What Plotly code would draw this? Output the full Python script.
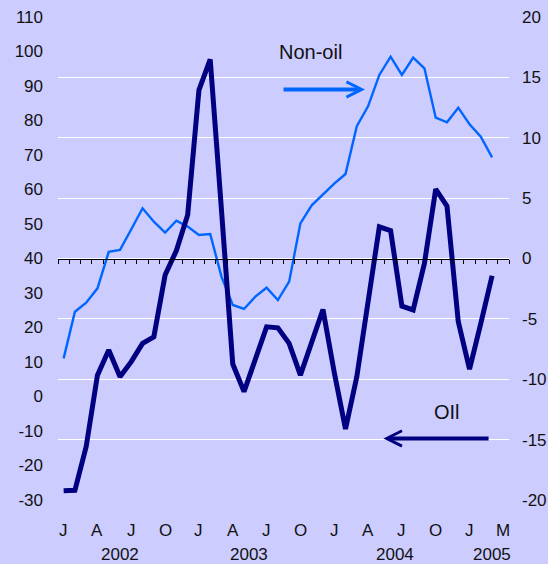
import plotly.graph_objects as go

# ---------------- data ----------------
months = [f"{m} {y}" for y in (2002, 2003, 2004) for m in
          ["Jan", "Feb", "Mar", "Apr", "May", "Jun", "Jul", "Aug", "Sep", "Oct", "Nov", "Dec"]] + \
         ["Jan 2005", "Feb 2005", "Mar 2005", "Apr 2005"]

oil = [-27.3, -27.2, -14.5, 6.2, 13.5, 5.7, 10.1, 15.4, 17.3, 35.2, 42.3, 52.6,
       88.8, 97.7, 54.0, 9.4, 1.4, 10.6, 20.2, 19.9, 15.4, 6.2, 15.4, 25.2,
       7.0, -9.4, 5.7, 27.5, 49.2, 48.1, 26.2, 25.1, 38.6, 60.1, 55.2, 21.7,
       7.9, 21.2, 35.0]

non_oil = [-8.27, -4.41, -3.66, -2.47, 0.55, 0.71, 2.42, 4.16, 3.05, 2.14, 3.13, 2.64,
           1.95, 2.03, -1.5, -3.85, -4.18, -3.16, -2.42, -3.44, -1.92, 2.91, 4.4, 5.3,
           6.2, 7.0, 10.95, 12.6, 15.2, 16.71, 15.2, 16.63, 15.75, 11.66, 11.28, 12.49,
           11.12, 10.09, 8.38]

month_tick_pos = [0, 3, 6, 9, 12, 15, 18, 21, 24, 27, 30, 33, 36, 39]
month_tick_text = ["J", "A", "J", "O", "J", "A", "J", "O", "J", "A", "J", "O", "J", "M"]
year_pos = [5, 16.4, 29.4, 38]
year_text = ["2002", "2003", "2004", "2005"]

left_ticks = list(range(-30, 111, 10))
left_text = [str(v) for v in left_ticks]
right_ticks = list(range(-20, 21, 5))
right_text = [str(v) for v in right_ticks]

x_idx = list(range(len(months)))
boundaries = [i - 0.5 for i in range(len(months) + 1)]

BG = "#ccccff"
NAVY = "#000080"
BLUE = "#0066ff"
FONT = "Liberation Sans, Arial, sans-serif"
TXT = "#111111"

fig = go.Figure()
fig.add_trace(go.Scatter(x=x_idx[:len(non_oil)], y=non_oil, mode="lines", name="Non-oil",
                         line=dict(color=BLUE, width=2.4), xaxis="x", yaxis="y",
                         text=months[:len(non_oil)]))
fig.add_trace(go.Scatter(x=x_idx[:len(oil)], y=oil, mode="lines", name="Oil",
                         line=dict(color=NAVY, width=5), xaxis="x", yaxis="y2",
                         text=months[:len(oil)]))

annotations = []
for p, t in zip(month_tick_pos, month_tick_text):
    annotations.append(dict(x=p, y=-0.064, xref="x", yref="paper", text=t, showarrow=False,
                            font=dict(size=17, color=TXT, family=FONT),
                            xanchor="center", yanchor="middle"))
for p, t in zip(year_pos, year_text):
    annotations.append(dict(x=p, y=-0.112, xref="x", yref="paper", text=t, showarrow=False,
                            font=dict(size=17, color=TXT, family=FONT),
                            xanchor="center", yanchor="middle"))

# series labels and arrows
annotations.append(dict(x=21.86, y=17.1, xref="x", yref="y", text="Non-oil", showarrow=False,
                        font=dict(size=20, color=TXT, family=FONT)))
annotations.append(dict(x=26.73, y=14.0, ax=19.37, ay=14.0, xref="x", yref="y",
                        axref="x", ayref="y", text="", showarrow=True, arrowhead=5,
                        arrowsize=0.75, arrowwidth=4, arrowcolor=BLUE, standoff=0))
annotations.append(dict(x=33.98, y=-12.74, xref="x", yref="y", text="OIl", showarrow=False,
                        font=dict(size=20, color=TXT, family=FONT)))
annotations.append(dict(x=28.36, y=-14.9, ax=37.82, ay=-14.9, xref="x", yref="y",
                        axref="x", ayref="y", text="", showarrow=True, arrowhead=5,
                        arrowsize=0.75, arrowwidth=4, arrowcolor=NAVY, standoff=0))

fig.update_layout(
    width=548, height=564,
    autosize=False,
    margin=dict(l=58, r=39, t=17, b=64, pad=0, autoexpand=False),
    paper_bgcolor=BG, plot_bgcolor=BG,
    showlegend=False,
    font=dict(family=FONT, size=17, color=TXT),
    xaxis=dict(range=[-0.5, len(months) - 0.5], anchor="free", position=0.5,
               tickmode="array", tickvals=boundaries, ticks="outside", ticklen=4,
               tickcolor="black", tickwidth=1, showticklabels=False,
               showline=True, linecolor="black", linewidth=1,
               showgrid=False, zeroline=False, automargin=False),
    yaxis=dict(range=[-20, 20], side="right", tickmode="array", tickvals=right_ticks,
               ticktext=right_text, showgrid=True, gridcolor="white", gridwidth=1,
               zeroline=False, ticks="", ticklabelstandoff=12, automargin=False,
               tickfont=dict(size=17, color=TXT, family=FONT)),
    yaxis2=dict(range=[-30, 110], overlaying="y", side="left", tickmode="array",
                tickvals=left_ticks, ticktext=left_text, showgrid=False, zeroline=False,
                ticks="", ticklabelstandoff=14, automargin=False,
                tickfont=dict(size=17, color=TXT, family=FONT)),
    annotations=annotations,
)

fig.write_html(
    "out.html",
    config={"responsive": False, "displayModeBar": False},
    post_script="document.body.style.margin='0';document.body.style.padding='0';"
                "document.body.style.background='#ffffff';",
)
